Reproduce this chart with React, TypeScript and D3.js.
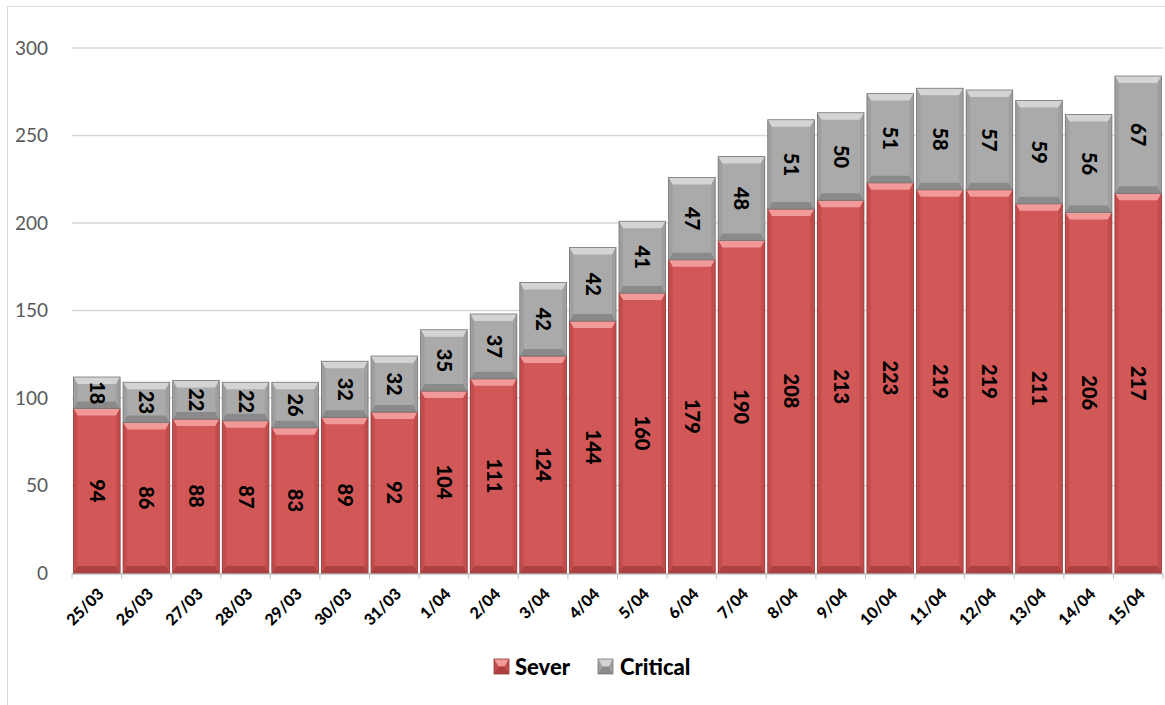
import React from 'react'
import { scaleBand, scaleLinear } from 'd3'

const categories = ['25/03', '26/03', '27/03', '28/03', '29/03', '30/03', '31/03', '1/04', '2/04', '3/04', '4/04', '5/04', '6/04', '7/04', '8/04', '9/04', '10/04', '11/04', '12/04', '13/04', '14/04', '15/04']
const sever = [94, 86, 88, 87, 83, 89, 92, 104, 111, 124, 144, 160, 179, 190, 208, 213, 223, 219, 219, 211, 206, 217]
const critical = [18, 23, 22, 22, 26, 32, 32, 35, 37, 42, 42, 41, 47, 48, 51, 50, 51, 58, 57, 59, 56, 67]
const yTicks = [0, 50, 100, 150, 200, 250, 300]

const W = 1165
const H = 705
const margin = { left: 72, right: 2, top: 48, bottom: 132 }
const font = 'Lato, "Open Sans", sans-serif'

const palettes = {
  red: { main: '#d25858', top: '#f29a9a', bottom: '#ad4040', side: '#c44c4c', edge: '#8e3a3a' },
  gray: { main: '#aaaaaa', top: '#d4d4d4', bottom: '#8a8a8a', side: '#9f9f9f', edge: '#777777' },
}

type Pal = typeof palettes.red

const BevelRect = ({ x, y, w, h, pal }: { x: number, y: number, w: number, h: number, pal: Pal }) => {
  const b = Math.min(7, h / 2)
  const s = 4
  return (
    <g>
      <rect x={x} y={y} width={w} height={h} fill={pal.main} />
      <polygon points={`${x},${y} ${x + w},${y} ${x + w - s},${y + b} ${x + s},${y + b}`} fill={pal.top} />
      <polygon points={`${x},${y + h} ${x + w},${y + h} ${x + w - s},${y + h - b} ${x + s},${y + h - b}`} fill={pal.bottom} />
      <polygon points={`${x},${y} ${x + s},${y + b} ${x + s},${y + h - b} ${x},${y + h}`} fill={pal.side} />
      <polygon points={`${x + w},${y} ${x + w - s},${y + b} ${x + w - s},${y + h - b} ${x + w},${y + h}`} fill={pal.side} />
      <rect x={x} y={y} width={w} height={h} fill="none" stroke={pal.edge} strokeWidth={0.8} />
    </g>
  )
}

const App = () => {
  const x = scaleBand<string>()
    .domain(categories)
    .range([margin.left, W - margin.right])
    .paddingInner(0.06)
    .paddingOuter(0.03)
  const y = scaleLinear().domain([0, 300]).range([H - margin.bottom, margin.top])
  const step = x.step()
  const x0 = margin.left
  const x1 = W - margin.right

  return (
    <svg width={W} height={H} style={{ position: 'absolute', left: 0, top: 0 }}>
      <rect x={0} y={0} width={W} height={H} fill="#fff" />
      <line x1={7} x2={W} y1={6.5} y2={6.5} stroke="#d9d9d9" />
      <line x1={7.5} x2={7.5} y1={6} y2={H} stroke="#d9d9d9" />
      {yTicks.map(t => (
        <g key={t}>
          {t > 0 && <line x1={x0} x2={x1} y1={y(t)} y2={y(t)} stroke="#d9d9d9" strokeWidth={1.5} />}
          <text x={48} y={y(t)} dy="0.35em" textAnchor="end" fontFamily={font} fontSize={19} fill="#595959">{t}</text>
        </g>
      ))}
      <line x1={x0} x2={x1} y1={y(0) + 1} y2={y(0) + 1} stroke="#bfbfbf" strokeWidth={1.5} />
      {categories.map((c, i) => (
        <line key={'t' + c} x1={x0 + i * step} x2={x0 + i * step} y1={y(0)} y2={y(0) + 6} stroke="#bfbfbf" />
      ))}
      <line x1={x1} x2={x1} y1={y(0)} y2={y(0) + 6} stroke="#bfbfbf" />
      {categories.map((c, i) => {
        const bx = x(c)!
        const bw = x.bandwidth()
        const ys = y(sever[i])
        const yc = y(sever[i] + critical[i])
        const cx = bx + bw / 2
        return (
          <g key={c}>
            <BevelRect x={bx} y={ys} w={bw} h={y(0) - ys} pal={palettes.red} />
            <BevelRect x={bx} y={yc} w={bw} h={ys - yc} pal={palettes.gray} />
            <text transform={`translate(${cx},${(ys + y(0)) / 2}) rotate(90)`} textAnchor="middle" dy="0.35em" fontFamily={font} fontWeight="900" fontSize={20} fill="#000">{sever[i]}</text>
            <text transform={`translate(${cx},${(ys + yc) / 2}) rotate(90)`} textAnchor="middle" dy="0.35em" fontFamily={font} fontWeight="900" fontSize={20} fill="#000">{critical[i]}</text>
            <text transform={`translate(${cx + 4},${y(0) + 18}) rotate(-45)`} textAnchor="end" dy="0.35em" fontFamily={font} fontWeight="900" fontSize={16} fill="#000">{c}</text>
          </g>
        )
      })}
      <g>
        <BevelRect x={494} y={659} w={15} h={15} pal={palettes.red} />
        <text x={515} y={667} dy="0.35em" fontFamily={font} fontWeight="900" fontSize={22} fill="#000">Sever</text>
        <BevelRect x={598} y={659} w={15} h={15} pal={palettes.gray} />
        <text x={620} y={667} dy="0.35em" fontFamily={font} fontWeight="900" fontSize={22} fill="#000">Critical</text>
      </g>
    </svg>
  )
}

export default App
